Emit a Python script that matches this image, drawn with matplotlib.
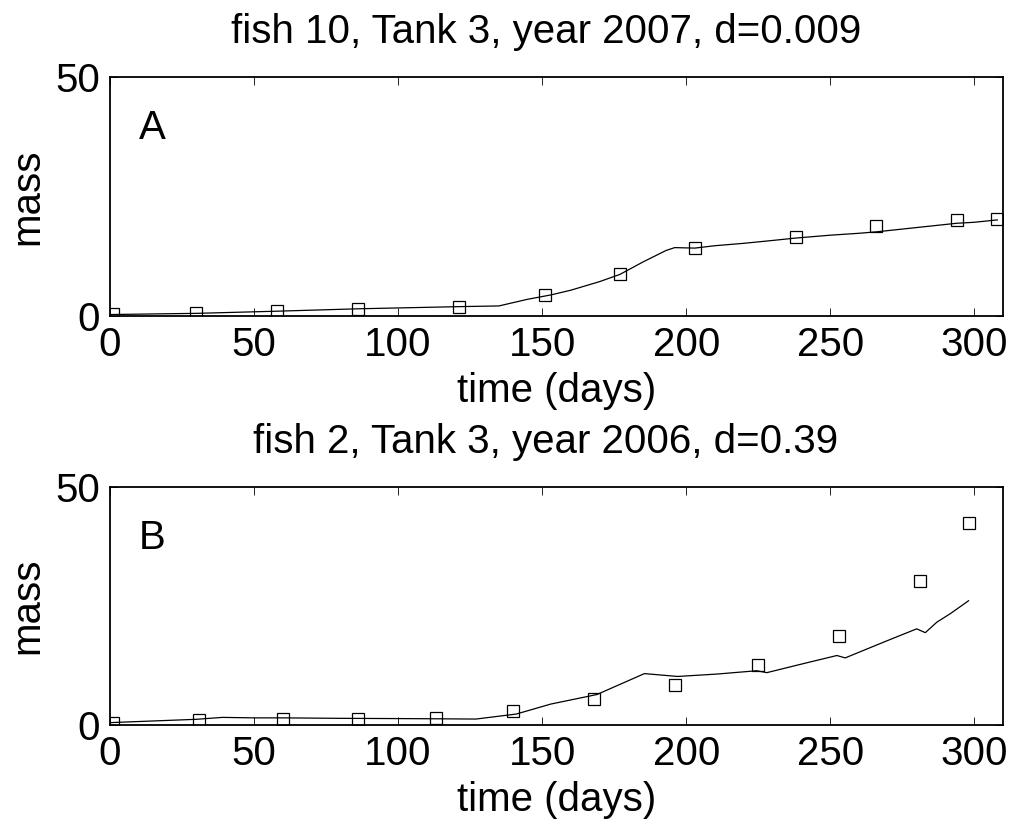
import matplotlib
matplotlib.use('Agg')
import matplotlib.pyplot as plt

plt.rcParams['font.family'] = ['Liberation Sans', 'DejaVu Sans']

# panel A: fish 10, tank 3, 2007
a_obs_t = [1, 30, 58, 86, 121, 151, 177, 203, 238, 266, 294, 308]
a_obs_m = [0.4, 0.7, 1.1, 1.4, 1.95, 4.3, 8.7, 14.2, 16.6, 18.8, 20.1, 20.2]
a_fit_t = [0, 30, 58, 86, 121, 135, 145, 153, 160, 170, 177, 185, 190, 193, 196,
           203, 210, 220, 230, 238, 250, 260, 266, 280, 294, 300, 308]
a_fit_m = [0.3, 0.55, 1.0, 1.5, 1.95, 2.1, 3.5, 4.4, 5.4, 7.2, 8.7, 11.3, 12.8, 13.7, 14.3,
           14.2, 14.7, 15.2, 15.8, 16.3, 16.9, 17.3, 17.6, 18.5, 19.4, 19.6, 20.1]

# panel B: fish 2, tank 3, 2006
b_obs_t = [1, 31, 60, 86, 113, 140, 168, 196, 225, 253, 281, 298]
b_obs_m = [0.5, 1.05, 1.25, 1.2, 1.4, 2.9, 5.4, 8.4, 12.6, 18.7, 30.2, 42.5]
b_fit_t = [0, 30, 39, 50, 60, 80, 100, 115, 127, 141, 153, 169, 178, 185.5, 197,
           210.6, 224.5, 228, 240.7, 252.3, 255.2, 268.5, 280, 283, 287, 291.7, 298]
b_fit_m = [0.5, 1.2, 1.6, 1.5, 1.5, 1.4, 1.35, 1.3, 1.25, 2.3, 4.4, 6.4, 8.8, 10.8, 10.2,
           10.7, 11.4, 11.0, 12.9, 14.6, 14.1, 17.4, 20.2, 19.4, 21.6, 23.4, 26.1]

titles = ['fish 10, Tank 3, year 2007, d=0.009', 'fish 2, Tank 3, year 2006, d=0.39']
letters = ['A', 'B']
xticks = [0, 50, 100, 150, 200, 250, 300]
yticks = [0, 50]

fig = plt.figure(figsize=(10.16, 8.25), dpi=100)
ax1 = fig.add_axes([0.1083, 0.617, 0.879, 0.2897])
ax2 = fig.add_axes([0.1083, 0.1212, 0.879, 0.2885])

panels = [(ax1, a_obs_t, a_obs_m, a_fit_t, a_fit_m),
          (ax2, b_obs_t, b_obs_m, b_fit_t, b_fit_m)]

fs = 29
for i, (ax, ot, om, ft, fm_) in enumerate(panels):
    ax.plot(ft, fm_, '-', color='black', linewidth=0.9)
    ax.plot(ot, om, 's', markersize=8, markerfacecolor='none',
            markeredgecolor='black', markeredgewidth=0.9)
    ax.set_xlim(0, 310)
    ax.set_ylim(0, 50)
    ax.set_xticks(xticks)
    ax.set_yticks(yticks)
    ax.tick_params(direction='in', top=True, right=True, length=6, width=0.6,
                   labelsize=fs)
    ax.tick_params(axis='x', pad=7)
    ax.tick_params(axis='y', pad=7)
    for s in ax.spines.values():
        s.set_linewidth(1.3)
    # label positions in axes coords (baseline-anchored, like the original)
    ax.set_xlabel('time (days)', fontsize=fs, va='baseline')
    ax.xaxis.set_label_coords(0.5, -0.362)
    ax.set_ylabel('mass', fontsize=fs, va='baseline')
    ax.yaxis.set_label_coords(-0.0806, 0.5)
    ax.set_title(titles[i], fontsize=fs, x=0.488, y=1.142, pad=0)
    ax.text(10, 37, letters[i], fontsize=fs, ha='left', va='baseline')

plt.savefig('out.png', dpi=100)
plt.close()
